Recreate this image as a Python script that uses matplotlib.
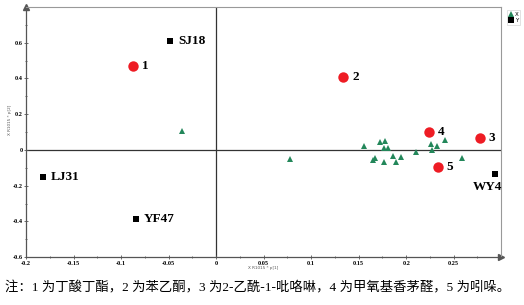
import matplotlib.pyplot as plt
from matplotlib.ticker import MultipleLocator

# compounds (red circles)
cmp_labels = ['1', '2', '3', '4', '5']
cmp_x = [-0.087, 0.134, 0.278, 0.224, 0.233]
cmp_y = [0.468, 0.411, 0.068, 0.101, -0.096]

# samples (Y, black squares)
smp_labels = ['SJ18', 'LJ31', 'YF47', 'WY4']
smp_x = [-0.048, -0.182, -0.084, 0.293]
smp_y = [0.608, -0.152, -0.389, -0.135]

# variables (X, green triangles)
var_x = [-0.036, 0.078, 0.156, 0.172, 0.178, 0.177, 0.181, 0.226, 0.232, 0.241,
         0.227, 0.210, 0.186, 0.195, 0.167, 0.165, 0.177, 0.189, 0.259]
var_y = [0.107, -0.051, 0.024, 0.043, 0.051, 0.009, 0.009, 0.034, 0.024, 0.053,
         0.002, -0.013, -0.032, -0.041, -0.045, -0.058, -0.066, -0.066, -0.047]

caption = '注：1 为丁酸丁酯，2 为苯乙酮，3 为2-乙酰-1-吡咯啉，4 为甲氧基香茅醛，5 为吲哚。'

green = '#23875a'
red = '#ee1c24'
serif = ['Liberation Serif', 'DejaVu Serif']

fig = plt.figure(figsize=(5.24, 3.05), dpi=100)
ax = fig.add_axes([0.0496, 0.157, 0.907, 0.820])

ax.axhline(0, color='#333333', lw=0.9, zorder=1)
ax.axvline(0, color='#333333', lw=0.9, zorder=1)

ax.plot(var_x, var_y, '^', color=green, ms=4.2, mew=0, label='X', zorder=3)
ax.plot(smp_x, smp_y, 's', color='black', ms=4.2, mew=0, label='Y', zorder=3)
ax.plot(cmp_x, cmp_y, 'o', color=red, ms=7.5, mew=0, zorder=4)

for lab, x, y in zip(cmp_labels, cmp_x, cmp_y):
    ax.text(x + 0.009, y, lab, fontsize=9.5, fontweight='bold', family=serif,
            va='center', ha='left')
for lab, x, y in zip(smp_labels, smp_x, smp_y):
    if lab == 'WY4':
        ax.text(x - 0.008, y - 0.07, lab, fontsize=9.5, fontweight='bold', family=serif,
                va='center', ha='center')
    else:
        ax.text(x + 0.008, y, lab, fontsize=9.5, fontweight='bold', family=serif,
                va='center', ha='left')

ax.set_xlim(-0.2, 0.3)
ax.set_ylim(-0.6, 0.8)
ax.set_xticks([-0.2, -0.15, -0.1, -0.05, 0, 0.05, 0.1, 0.15, 0.2, 0.25])
ax.set_xticklabels(['-0.2', '-0.15', '-0.1', '-0.05', '0', '0.05', '0.1', '0.15', '0.2', '0.25'])
ax.set_yticks([-0.6, -0.4, -0.2, 0, 0.2, 0.4, 0.6])
ax.set_yticklabels(['-0.6', '-0.4', '-0.2', '0', '0.2', '0.4', '0.6'])
ax.xaxis.set_minor_locator(MultipleLocator(0.025))
ax.yaxis.set_minor_locator(MultipleLocator(0.1))
ax.tick_params(which='both', direction='inout', length=3, width=0.6, color='#555555',
               labelsize=4.5, pad=1)
ax.tick_params(which='minor', length=2)
for t in ax.get_xticklabels() + ax.get_yticklabels():
    t.set_family(serif)
    t.set_fontweight('bold')

ax.set_xlabel('X R1015 * p[1]', fontsize=3, color='#555555', labelpad=0)
ax.set_ylabel('X R1015 * p[2]', fontsize=3, color='#555555', labelpad=2)
ax.yaxis.set_label_coords(-0.03, 0.55)

for side in ['top', 'right']:
    ax.spines[side].set_color('#999999')
    ax.spines[side].set_linewidth(0.8)
for side in ['left', 'bottom']:
    ax.spines[side].set_color('#555555')
    ax.spines[side].set_linewidth(0.9)

# axis arrows
ax.plot(1, 0, '>', color='#555555', ms=4, transform=ax.transAxes, clip_on=False)
ax.plot(0, 1, '^', color='#555555', ms=4, transform=ax.transAxes, clip_on=False)

leg = fig.legend(loc='upper left', bbox_to_anchor=(0.962, 0.975), fontsize=4,
                 frameon=True, handlelength=0.8, handletextpad=0.3, borderpad=0.3,
                 labelspacing=0.2, markerscale=1.0)
leg.get_frame().set_edgecolor('#cccccc')
leg.get_frame().set_linewidth(0.5)
leg.get_frame().set_boxstyle('square', pad=0)

fig.text(0.01, 0.055, caption, fontsize=9.6,
         family=['Liberation Serif', 'Noto Sans CJK SC'], va='center', ha='left')

fig.savefig('out.png', dpi=100)
